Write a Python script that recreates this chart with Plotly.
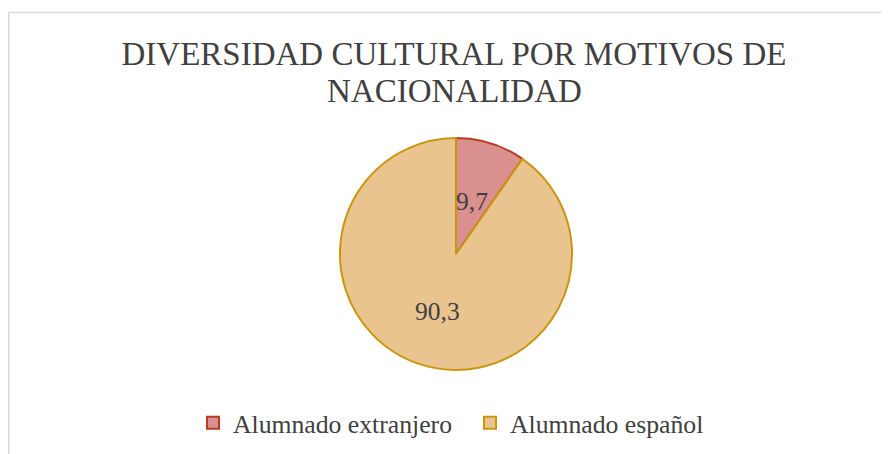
import math
import plotly.graph_objects as go

categories = ["Alumnado extranjero", "Alumnado español"]
values = [9.7, 90.3]
value_labels = ["9,7", "90,3"]
title_lines = ["DIVERSIDAD CULTURAL POR MOTIVOS DE", "NACIONALIDAD"]

W, H = 881, 446
fill_colors = ["#d9908f", "#eac48f"]
line_colors = ["#b83c22", "#c9960f"]
font_family = "Liberation Serif, Times New Roman, serif"
txt_color = "#404040"

cx, cy, R = 448, 246, 116  # pie centre / radius in px (figure coords)
dom_x = [(cx - R) / W, (cx + R) / W]
dom_y = [(H - cy - R) / H, (H - cy + R) / H]

fig = go.Figure(go.Pie(
    labels=categories, values=values, sort=False, direction="clockwise",
    rotation=0, textinfo="none", hoverinfo="label+value",
    marker=dict(colors=fill_colors, line=dict(color=line_colors, width=2)),
    domain=dict(x=dom_x, y=dom_y),
))

# value labels placed on each slice bisector
annotations = []
total = sum(values)
start = 0.0
fracs = [0.47, 0.52]
for v, lab, fr in zip(values, value_labels, fracs):
    mid = (start + v / 2) / total * 2 * math.pi
    start += v
    px = cx + fr * R * math.sin(mid)
    py = cy - fr * R * math.cos(mid)
    annotations.append(dict(x=px / W, y=1 - py / H, xref="paper", yref="paper",
                            xanchor="center", yanchor="middle",
                            text=lab, showarrow=False,
                            font=dict(family=font_family, size=25.5, color=txt_color)))

annotations.append(dict(x=446 / W, y=1 - 82.5 / H, xref="paper", yref="paper",
                        text=title_lines[1], showarrow=False, xanchor="center", yanchor="middle",
                        font=dict(family=font_family, size=33, color=txt_color)))

fig.update_layout(
    width=W, height=H,
    margin=dict(l=0, r=0, t=0, b=0),
    paper_bgcolor="white", plot_bgcolor="white",
    title=dict(text=title_lines[0], x=446 / W, xanchor="center",
               y=1 - 45 / H, yanchor="middle", yref="paper",
               font=dict(family=font_family, size=33, color=txt_color)),
    showlegend=True,
    legend=dict(orientation="h", x=185 / W, xanchor="left", y=1 - 415 / H, yanchor="middle",
                entrywidth=232, entrywidthmode="pixels",
                font=dict(family=font_family, size=25.7, color=txt_color),
                itemclick=False, itemdoubleclick=False),
    annotations=annotations,
    shapes=[
        dict(type="line", xref="paper", yref="paper", x0=0.75 / W, x1=1, y0=1 - 4.5 / H, y1=1 - 4.5 / H,
             line=dict(color="#d9d9d9", width=1.5)),
        dict(type="line", xref="paper", yref="paper", x0=0.75 / W, x1=0.75 / W, y0=0, y1=1 - 4.5 / H,
             line=dict(color="#d9d9d9", width=1.5)),
    ],
)

fig.write_html("out.html")
